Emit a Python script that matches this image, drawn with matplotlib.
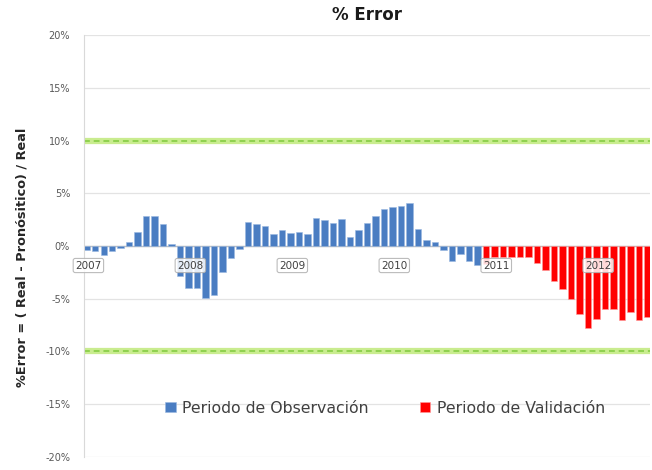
import matplotlib
matplotlib.use("Agg")
import matplotlib.pyplot as plt
import numpy as np

# Monthly periods Jan 2007 .. Jul 2012
months = [f"{y}-{m:02d}" for y in range(2007, 2013) for m in range(1, 13)][:67]

obs_values = [-0.4, -0.5, -0.85, -0.45, -0.2, 0.4, 1.3, 2.85, 2.8, 2.1, 0.15, -2.85,
              -4.0, -4.0, -4.95, -4.6, -2.45, -1.1, -0.3, 2.3, 2.1, 1.85, 1.1, 1.5,
              1.26, 1.3, 1.1, 2.7, 2.5, 2.15, 2.55, 0.9, 1.5, 2.15, 2.8, 3.5,
              3.7, 3.75, 4.05, 1.6, 0.57, 0.4, -0.38, -1.4, -0.76, -1.4, -1.8]
val_values = [-1.7, -1.0, -1.05, -1.0, -1.0, -1.05, -1.6, -2.3, -3.3, -4.1, -5.0, -6.4,
              -7.8, -6.95, -6.0, -6.0, -7.0, -6.25, -7.0, -6.7]

year_labels = ["2007", "2008", "2009", "2010", "2011", "2012"]
limit_lines = [10, -10]
y_ticks = [20, 15, 10, 5, 0, -5, -10, -15, -20]

fig = plt.figure(figsize=(6.52, 4.70), dpi=100)
ax = fig.add_axes([0.1288, 0.0277, 0.997 - 0.1288, 0.9255 - 0.0277])

x_obs = np.arange(len(obs_values))
x_val = np.arange(len(obs_values), len(obs_values) + len(val_values))

for t in y_ticks:
    ax.axhline(t, color="#e3e3e3", lw=0.9, zorder=0)

for v in limit_lines:
    ax.axhline(v, color="#c9ec8f", lw=4.5, zorder=1)
    ax.axhline(v, color="#8fd14f", lw=1.4, ls=(0, (3, 2)), zorder=1.1)

ax.axhline(0, color="#bfbfbf", lw=1.0, zorder=1)

ax.bar(x_obs, obs_values, width=0.75, color="#4a7dc2", edgecolor="#9bb8e0",
       linewidth=0.4, label="Periodo de Observación", zorder=2)
ax.bar(x_val, val_values, width=0.75, color="#ff0000", edgecolor="#ff9a9a",
       linewidth=0.4, label="Periodo de Validación", zorder=2)

# year labels at January of each year
for lab in year_labels:
    idx = months.index(f"{lab}-01")
    ax.text(idx + 0.2, -1.85, lab, ha="center", va="center", fontsize=7.5,
            color="#404040", zorder=4,
            bbox=dict(boxstyle="round,pad=0.2", fc="white", ec="#b0b0b0",
                      lw=0.8, alpha=0.85))

ax.set_ylim(-20, 20)
ax.set_xlim(-0.32, 66.3)
ax.set_yticks(y_ticks)
ax.set_yticklabels([f"{t}%" for t in y_ticks], fontsize=7, color="#595959")
ax.set_xticks([])
ax.tick_params(axis="y", length=0, pad=10)
for s in ["top", "right", "bottom"]:
    ax.spines[s].set_visible(False)
ax.spines["left"].set_color("#d9d9d9")

ax.set_title("% Error", fontsize=12, fontweight="bold", color="#1a1a1a", pad=11)
fig.text(22 / 652, 1 - 257 / 470, "%Error = ( Real - Pronósitico) / Real",
         rotation=90, ha="center", va="center", fontsize=9.3,
         fontweight="bold", color="#262626")

leg = ax.legend(loc="center", bbox_to_anchor=(0.532, 0.116), ncol=2, frameon=False,
                fontsize=11.3, handlelength=0.65, handleheight=0.65,
                handletextpad=0.4, columnspacing=3.3)
for t in leg.get_texts():
    t.set_color("#404040")

fig.savefig("out.png", dpi=100)
